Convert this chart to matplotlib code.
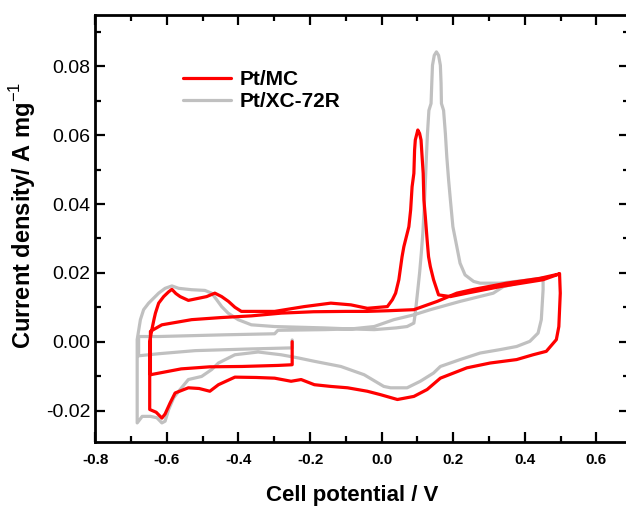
import matplotlib
matplotlib.use("Agg")
import matplotlib.pyplot as plt
from matplotlib.ticker import MultipleLocator, FixedLocator

plt.rcParams['font.family'] = ['Liberation Sans', 'DejaVu Sans']
plt.rcParams['mathtext.fontset'] = 'custom'
plt.rcParams['mathtext.rm'] = 'Liberation Sans'
plt.rcParams['mathtext.bf'] = 'Liberation Sans:bold'

# ---------------- data ----------------
series_names = ["Pt/MC", "Pt/XC-72R"]

# Pt/MC (red) cyclic voltammogram path
mc_x = [
    -0.25, -0.25, -0.29, -0.39, -0.48, -0.56, -0.646,
    -0.646, -0.614, -0.531, -0.45, -0.364, -0.28, -0.19, -0.10, -0.04, 0.02, 0.09,
    0.155, 0.21, 0.257, 0.349, 0.442, 0.497,
    0.499, 0.495, 0.488, 0.46, 0.423, 0.377, 0.303, 0.238, 0.164, 0.127, 0.09, 0.044,
    -0.003, -0.04, -0.095, -0.142, -0.188, -0.225, -0.253, -0.299, -0.35, -0.41,
    -0.456, -0.48, -0.51, -0.54, -0.577, -0.591, -0.605, -0.614, -0.63, -0.648,
    -0.648, -0.643, -0.636, -0.632, -0.623, -0.609, -0.595, -0.586, -0.575, -0.563,
    -0.54, -0.512, -0.489, -0.466, -0.447, -0.428, -0.41, -0.392, -0.299, -0.216,
    -0.142, -0.086, -0.04, 0.016, 0.03, 0.039, 0.048, 0.057, 0.062, 0.076, 0.081,
    0.085, 0.09, 0.092, 0.094, 0.101, 0.106, 0.11, 0.113, 0.116, 0.118, 0.122,
    0.127, 0.131, 0.136, 0.145, 0.159, 0.192, 0.238, 0.331, 0.451, 0.497,
]
mc_y = [
    0.0000, -0.0067, -0.0069, -0.0072, -0.0073, -0.0079, -0.0096,
    0.0030, 0.0049, 0.0064, 0.0070, 0.0075, 0.0083, 0.0087, 0.0088, 0.0088, 0.0090, 0.0093,
    0.0117, 0.0141, 0.0152, 0.0170, 0.0184, 0.0197,
    0.0141, 0.0044, 0.0006, -0.0028, -0.0038, -0.0052, -0.0062, -0.0076, -0.0106, -0.0139, -0.0159, -0.0168,
    -0.0154, -0.0144, -0.0134, -0.0130, -0.0125, -0.0110, -0.0115, -0.0106, -0.0104, -0.0103,
    -0.0125, -0.0144, -0.0136, -0.0134, -0.0149, -0.0178, -0.0210, -0.0222, -0.0205, -0.0197,
    0.0000, 0.0030, 0.0065, 0.0083, 0.0112, 0.0131, 0.0145, 0.0152, 0.0140, 0.0131,
    0.0120, 0.0126, 0.0131, 0.0141, 0.0131, 0.0117, 0.0100, 0.0088, 0.0088, 0.0102,
    0.0112, 0.0107, 0.0097, 0.0102, 0.0122, 0.0141, 0.0180, 0.0247, 0.0276, 0.0334, 0.0383,
    0.0450, 0.0489, 0.0557, 0.0586, 0.0615, 0.0605, 0.0586, 0.0537, 0.0489, 0.0412, 0.0363,
    0.0296, 0.0247, 0.0218, 0.0180, 0.0136, 0.0131, 0.0141, 0.0160, 0.0180, 0.0197,
]

# Pt/XC-72R (grey) cyclic voltammogram path
xc_x = [
    -0.25, -0.25, -0.364, -0.521, -0.623, -0.679,
    -0.679, -0.623, -0.438, -0.299, -0.29, -0.16, -0.086, -0.021, 0.034, 0.09, 0.136,
    0.219, 0.312, 0.34, 0.40, 0.451,
    0.451, 0.446, 0.437, 0.414, 0.377, 0.331, 0.275, 0.219, 0.164, 0.145, 0.108, 0.071,
    0.025, 0.006, -0.049, -0.114, -0.188, -0.234, -0.281, -0.345, -0.41, -0.456, -0.475,
    -0.503, -0.54, -0.567, -0.581, -0.595, -0.605, -0.614, -0.628, -0.646, -0.669, -0.683,
    -0.683, -0.674, -0.665, -0.651, -0.623, -0.605, -0.586, -0.567, -0.531, -0.494,
    -0.475, -0.461, -0.447, -0.429, -0.401, -0.364, -0.299, -0.16, -0.086, -0.021,
    0.04, 0.071, 0.09, 0.094, 0.100, 0.106, 0.111, 0.115, 0.119, 0.122, 0.125, 0.128,
    0.132, 0.138, 0.140, 0.142, 0.147, 0.153, 0.159, 0.164, 0.166, 0.167, 0.173, 0.178,
    0.182, 0.187, 0.192, 0.199, 0.21, 0.219, 0.233, 0.257, 0.275, 0.331, 0.40, 0.451,
]
xc_y = [
    0.0005, -0.0018, -0.0021, -0.0026, -0.0035, -0.0041,
    0.0015, 0.0015, 0.0020, 0.0023, 0.0033, 0.0035, 0.0037, 0.0044, 0.0064, 0.0078, 0.0093,
    0.0117, 0.0141, 0.0160, 0.0175, 0.0185,
    0.0151, 0.0064, 0.0025, 0.0001, -0.0014, -0.0023, -0.0033, -0.0052, -0.0072, -0.0091, -0.0115, -0.0134,
    -0.0134, -0.0130, -0.0096, -0.0072, -0.0057, -0.0047, -0.0038, -0.0030, -0.0038, -0.0062, -0.0081,
    -0.0101, -0.0110, -0.0144, -0.0163, -0.0197, -0.0231, -0.0236, -0.0221, -0.0217, -0.0217, -0.0236,
    0.0006, 0.0064, 0.0093, 0.0112, 0.0141, 0.0155, 0.0162, 0.0155, 0.0151, 0.0149,
    0.0141, 0.0122, 0.0102, 0.0083, 0.0064, 0.0049, 0.0044, 0.0040, 0.0037, 0.0035,
    0.0040, 0.0044, 0.0054, 0.0083, 0.0141, 0.0200, 0.0260, 0.0315, 0.0392, 0.0460, 0.0537, 0.0605,
    0.0672, 0.0692, 0.0750, 0.0803, 0.0832, 0.0842, 0.0832, 0.0803, 0.0750, 0.0692, 0.0672, 0.0605,
    0.0537, 0.0470, 0.0412, 0.0334, 0.0276, 0.0228, 0.0194, 0.0175, 0.0170, 0.0170, 0.0178, 0.0185,
]

x_ticks = [-0.8, -0.6, -0.4, -0.2, 0.0, 0.2, 0.4, 0.6]
x_tick_labels = ["-0.8", "-0.6", "-0.4", "-0.2", "0.0", "0.2", "0.4", "0.6"]
y_ticks = [-0.02, 0.00, 0.02, 0.04, 0.06, 0.08]
y_tick_labels = ["-0.02", "0.00", "0.02", "0.04", "0.06", "0.08"]

# ---------------- figure ----------------
W, H = 626, 508
fig = plt.figure(figsize=(W / 100, H / 100), dpi=100)
ax = fig.add_axes([95.3 / W, (H - 441.5) / H, (629 - 95.3) / W, (441.5 - 14.7) / H])

red = "#ff0000"
grey = "#c0c0c0"
lw = 2.3
ax.plot(xc_x, xc_y, color=grey, lw=lw, label=series_names[1],
        solid_joinstyle='round', solid_capstyle='round', zorder=2)
ax.plot(mc_x, mc_y, color=red, lw=lw, label=series_names[0],
        solid_joinstyle='round', solid_capstyle='round', zorder=3)

ax.set_xlim(-0.8, 0.691)
ax.set_ylim(-0.029, 0.095)

ax.xaxis.set_major_locator(FixedLocator(x_ticks))
ax.set_xticklabels(x_tick_labels, fontsize=11, fontweight='bold')
ax.xaxis.set_minor_locator(MultipleLocator(0.1))
ax.yaxis.set_major_locator(FixedLocator(y_ticks))
ax.set_yticklabels(y_tick_labels, fontsize=14)
ax.yaxis.set_minor_locator(MultipleLocator(0.01))

ax.tick_params(which='both', direction='in', top=True, right=True, width=1.6)
ax.tick_params(which='major', length=7)
ax.tick_params(which='minor', length=4)
ax.tick_params(axis='x', which='major', pad=8)
ax.tick_params(axis='y', which='major', pad=3.5)
for s in ax.spines.values():
    s.set_linewidth(2.0)

ax.set_xlabel("Cell potential / V", fontsize=16, fontweight='bold')
ax.xaxis.set_label_coords((352 - 95.3) / (629 - 95.3), -(501 - 441.5) / (441.5 - 14.7))
ax.xaxis.label.set_va('baseline')
ax.set_ylabel(r"Current density/ A mg$^{-1}$", fontsize=17, fontweight='bold')
ax.yaxis.set_label_coords(-(95.3 - 22.5) / (629 - 95.3), (441.5 - 215) / (441.5 - 14.7))
ax.yaxis.label.set_va('center')

handles, labels = ax.get_legend_handles_labels()
order = [1, 0]
leg = ax.legend([handles[i] for i in order], [labels[i] for i in order],
                loc='upper left', bbox_to_anchor=((183 - 95.3) / (629 - 95.3), (441.5 - 70) / (441.5 - 14.7)),
                frameon=False, prop={'weight': 'bold', 'size': 15},
                handlelength=2.3, handletextpad=0.4, labelspacing=0.15,
                borderpad=0, borderaxespad=0)

fig.savefig("out.png", dpi=100)
